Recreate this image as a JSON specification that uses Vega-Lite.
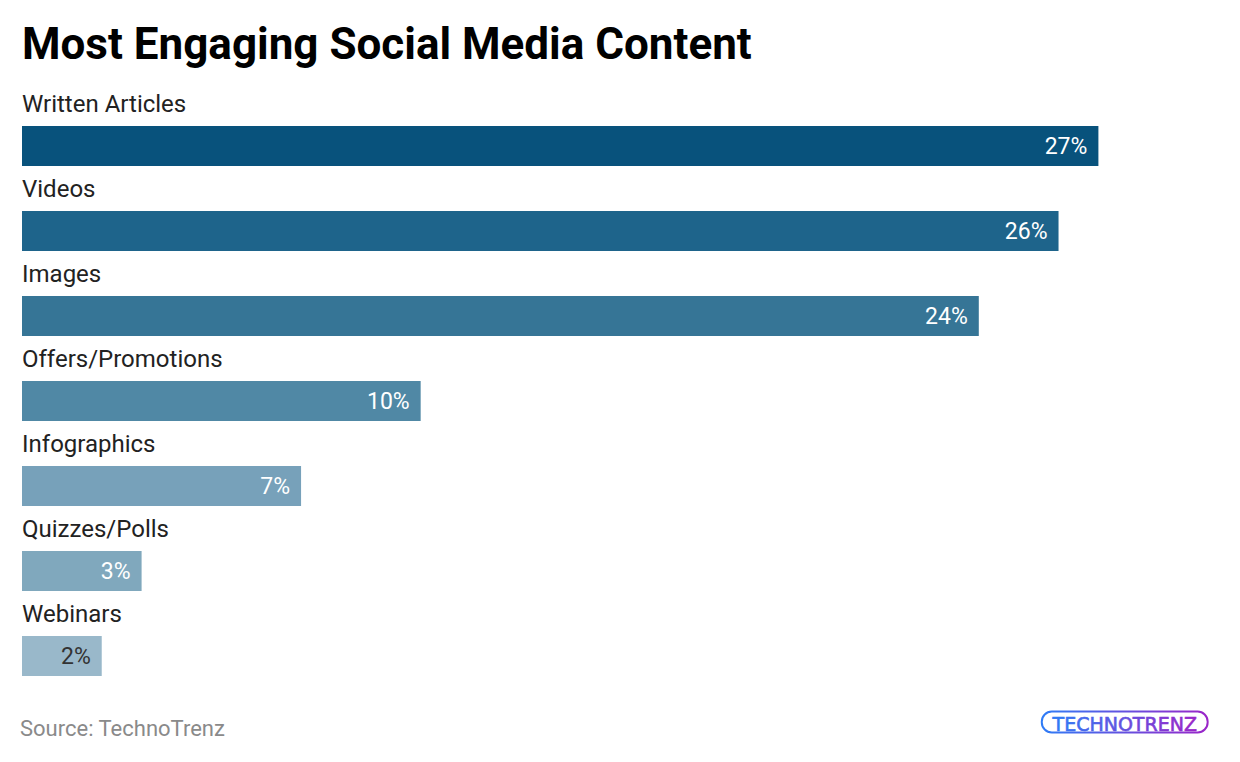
{
  "$schema": "https://vega.github.io/schema/vega-lite/v6.json",
  "width": 1196,
  "height": 635,
  "autosize": {"type": "none"},
  "padding": {"left": 22, "top": 126, "right": 0, "bottom": 0},
  "background": "white",
  "config": {"view": {"stroke": null}, "font": "Roboto"},
  "title": {
    "text": "Most Engaging Social Media Content",
    "anchor": "start",
    "frame": "group",
    "font": "Roboto",
    "fontSize": 44,
    "fontWeight": "bold",
    "color": "#000000",
    "baseline": "alphabetic",
    "offset": -10
  },
  "datasets": {
    "content": [
      {"cat": "Written Articles", "value": 27, "label": "27%"},
      {"cat": "Videos", "value": 26, "label": "26%"},
      {"cat": "Images", "value": 24, "label": "24%"},
      {"cat": "Offers/Promotions", "value": 10, "label": "10%"},
      {"cat": "Infographics", "value": 7, "label": "7%"},
      {"cat": "Quizzes/Polls", "value": 3, "label": "3%"},
      {"cat": "Webinars", "value": 2, "label": "2%"}
    ],
    "footer": [
      {"cat": "footer", "text": "Source: TechnoTrenz", "logo": "TECHNOTRENZ"}
    ]
  },
  "layer": [
    {
      "data": {"name": "content"},
      "mark": {"type": "bar"},
      "encoding": {
        "x": {"field": "value", "type": "quantitative", "scale": {"domain": [0, 30], "nice": false}, "axis": null},
        "y": {
          "field": "cat", "type": "nominal", "axis": null,
          "scale": {
            "domain": ["Written Articles", "Videos", "Images", "Offers/Promotions", "Infographics", "Quizzes/Polls", "Webinars", "footer"],
            "paddingInner": 0.5294, "paddingOuter": 0
          }
        },
        "color": {
          "field": "cat", "type": "nominal", "legend": null,
          "scale": {
            "domain": ["Written Articles", "Videos", "Images", "Offers/Promotions", "Infographics", "Quizzes/Polls", "Webinars"],
            "range": ["#08527c", "#1e648b", "#367596", "#5088a5", "#77a1ba", "#80a8bd", "#99b8ca"]
          }
        }
      }
    },
    {
      "data": {"name": "content"},
      "mark": {"type": "text", "align": "left", "baseline": "alphabetic", "dy": -14, "fontSize": 24, "font": "Roboto", "color": "#222222"},
      "encoding": {
        "x": {"datum": 0, "type": "quantitative"},
        "y": {"field": "cat", "type": "nominal", "bandPosition": 0},
        "text": {"field": "cat"}
      }
    },
    {
      "data": {"name": "content"},
      "mark": {"type": "text", "align": "right", "baseline": "alphabetic", "dx": -11, "dy": 8, "fontSize": 23, "font": "Roboto"},
      "encoding": {
        "x": {"field": "value", "type": "quantitative"},
        "y": {"field": "cat", "type": "nominal"},
        "text": {"field": "label"},
        "color": {"condition": {"test": "datum.value < 2.5", "value": "#333333"}, "value": "#ffffff"}
      }
    },
    {
      "data": {"name": "footer"},
      "mark": {"type": "text", "align": "left", "baseline": "alphabetic", "dx": -2, "dy": 15, "fontSize": 22, "font": "Roboto", "color": "#8a8a8a"},
      "encoding": {
        "x": {"datum": 0, "type": "quantitative"},
        "y": {"field": "cat", "type": "nominal", "bandPosition": 0},
        "text": {"field": "text"}
      }
    },
    {
      "data": {"name": "footer"},
      "mark": {
        "type": "bar", "height": 21, "yOffset": -19, "cornerRadius": 10, "fill": "transparent", "strokeWidth": 2,
        "stroke": {"gradient": "linear", "x1": 0, "y1": 0, "x2": 1, "y2": 0, "stops": [{"offset": 0, "color": "#2f7cf6"}, {"offset": 1, "color": "#9a25c8"}]}
      },
      "encoding": {
        "x": {"datum": 25.58, "type": "quantitative"},
        "x2": {"datum": 29.74},
        "y": {"field": "cat", "type": "nominal"}
      }
    },
    {
      "data": {"name": "footer"},
      "mark": {
        "type": "text", "align": "center", "baseline": "alphabetic", "dy": -10, "fontSize": 19, "font": "DejaVu Sans",
        "strokeWidth": 0.6,
        "stroke": {"gradient": "linear", "x1": 0, "y1": 0, "x2": 1, "y2": 0, "stops": [{"offset": 0, "color": "#2f7cf6"}, {"offset": 1, "color": "#9a25c8"}]},
        "fill": {"gradient": "linear", "x1": 0, "y1": 0, "x2": 1, "y2": 0, "stops": [{"offset": 0, "color": "#2f7cf6"}, {"offset": 1, "color": "#9a25c8"}]}
      },
      "encoding": {
        "x": {"datum": 27.66, "type": "quantitative"},
        "y": {"field": "cat", "type": "nominal"},
        "text": {"field": "logo"}
      }
    }
  ]
}
